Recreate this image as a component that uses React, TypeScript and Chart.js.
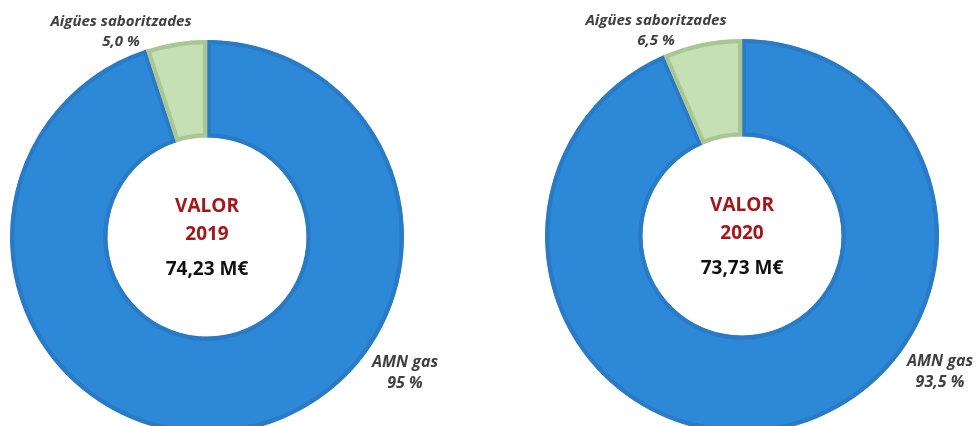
import React, { useEffect, useRef } from "react";
import { Chart, registerables } from "chart.js";

Chart.register(...registerables);

// ---- data ----
const categories = ["AMN gas", "Aigües saboritzades"];
const values2019 = [95, 5.0];
const values2020 = [93.5, 6.5];
const pctLabels2019 = ["95 %", "5,0 %"];
const pctLabels2020 = ["93,5 %", "6,5 %"];
const years = ["2019", "2020"];
const totals = ["74,23 M€", "73,73 M€"];
const centerTitle = "VALOR";

// ---- style ----
const fillColors = ["#2E88D8", "#C5E0B4"];
const borderColors = ["#2A7BC6", "#A9C694"];
const FONT = "'Open Sans', 'Noto Sans', sans-serif";

type Cfg = {
  values: number[];
  pct: string[];
  year: string;
  total: string;
  padLeft: number;
  padRight: number;
  width: number;
  height: number;
  left: number;
};

function makeLabelPlugin(cfg: Cfg) {
  return {
    id: "doughnutLabels",
    afterDraw(chart: any) {
      const meta = chart.getDatasetMeta(0);
      const arc = meta.data[0];
      if (!arc) return;
      const cx = arc.x;
      const cy = arc.y;
      const ctx = chart.ctx as CanvasRenderingContext2D;
      ctx.save();
      ctx.textAlign = "center";
      ctx.textBaseline = "middle";

      // center text
      ctx.fillStyle = "#A3161A";
      ctx.font = `bold 19px ${FONT}`;
      ctx.fillText(centerTitle, cx, cy - 30);
      ctx.fillText(cfg.year, cx, cy - 2);
      ctx.fillStyle = "#111111";
      ctx.font = `bold 19px ${FONT}`;
      ctx.fillText(cfg.total, cx, cy + 33);

      // slice labels
      ctx.fillStyle = "#404040";
      ctx.font = `italic bold 15px ${FONT}`;
      // Aigües saboritzades (index 1)
      ctx.fillText(categories[1], cx - 86, cy - 215);
      ctx.fillText(cfg.pct[1], cx - 86, cy - 195);
      // AMN gas (index 0)
      ctx.font = `italic bold 16px ${FONT}`;
      ctx.fillText(categories[0], cx + 198, cy + 125);
      ctx.fillText(cfg.pct[0], cx + 198, cy + 146);
      ctx.restore();
    },
  };
}

function Donut({ cfg }: { cfg: Cfg }) {
  const ref = useRef<HTMLCanvasElement | null>(null);
  useEffect(() => {
    if (!ref.current) return;
    const chart = new Chart(ref.current, {
      type: "doughnut",
      data: {
        labels: categories,
        datasets: [
          {
            data: cfg.values,
            backgroundColor: fillColors,
            borderColor: borderColors,
            borderWidth: 4,
            borderAlign: "inner",
          } as any,
        ],
      },
      options: {
        animation: false,
        responsive: false,
        devicePixelRatio: 1,
        radius: 197,
        cutout: "50.5%",
        rotation: 0,
        layout: { padding: { left: cfg.padLeft, right: cfg.padRight, top: 0, bottom: 0 } },
        plugins: {
          legend: { display: false },
          tooltip: { enabled: false },
          title: { display: false },
        },
      } as any,
      plugins: [makeLabelPlugin(cfg)],
    });
    return () => chart.destroy();
  }, [cfg]);
  return (
    <canvas
      ref={ref}
      width={cfg.width}
      height={cfg.height}
      style={{ position: "absolute", left: cfg.left, top: 0, width: cfg.width, height: cfg.height }}
    />
  );
}

const leftCfg: Cfg = {
  values: values2019,
  pct: pctLabels2019,
  year: years[0],
  total: totals[0],
  padLeft: 0,
  padRight: 74,
  width: 488,
  height: 474,
  left: 0,
};
const rightCfg: Cfg = {
  values: values2020,
  pct: pctLabels2020,
  year: years[1],
  total: totals[1],
  padLeft: 20,
  padRight: 0,
  width: 488,
  height: 472,
  left: 488,
};

export default function App() {
  return (
    <div
      style={{
        position: "fixed",
        left: 0,
        top: 0,
        width: 976,
        height: 426,
        overflow: "hidden",
        background: "#ffffff",
      }}
    >
      <Donut cfg={leftCfg} />
      <Donut cfg={rightCfg} />
    </div>
  );
}
